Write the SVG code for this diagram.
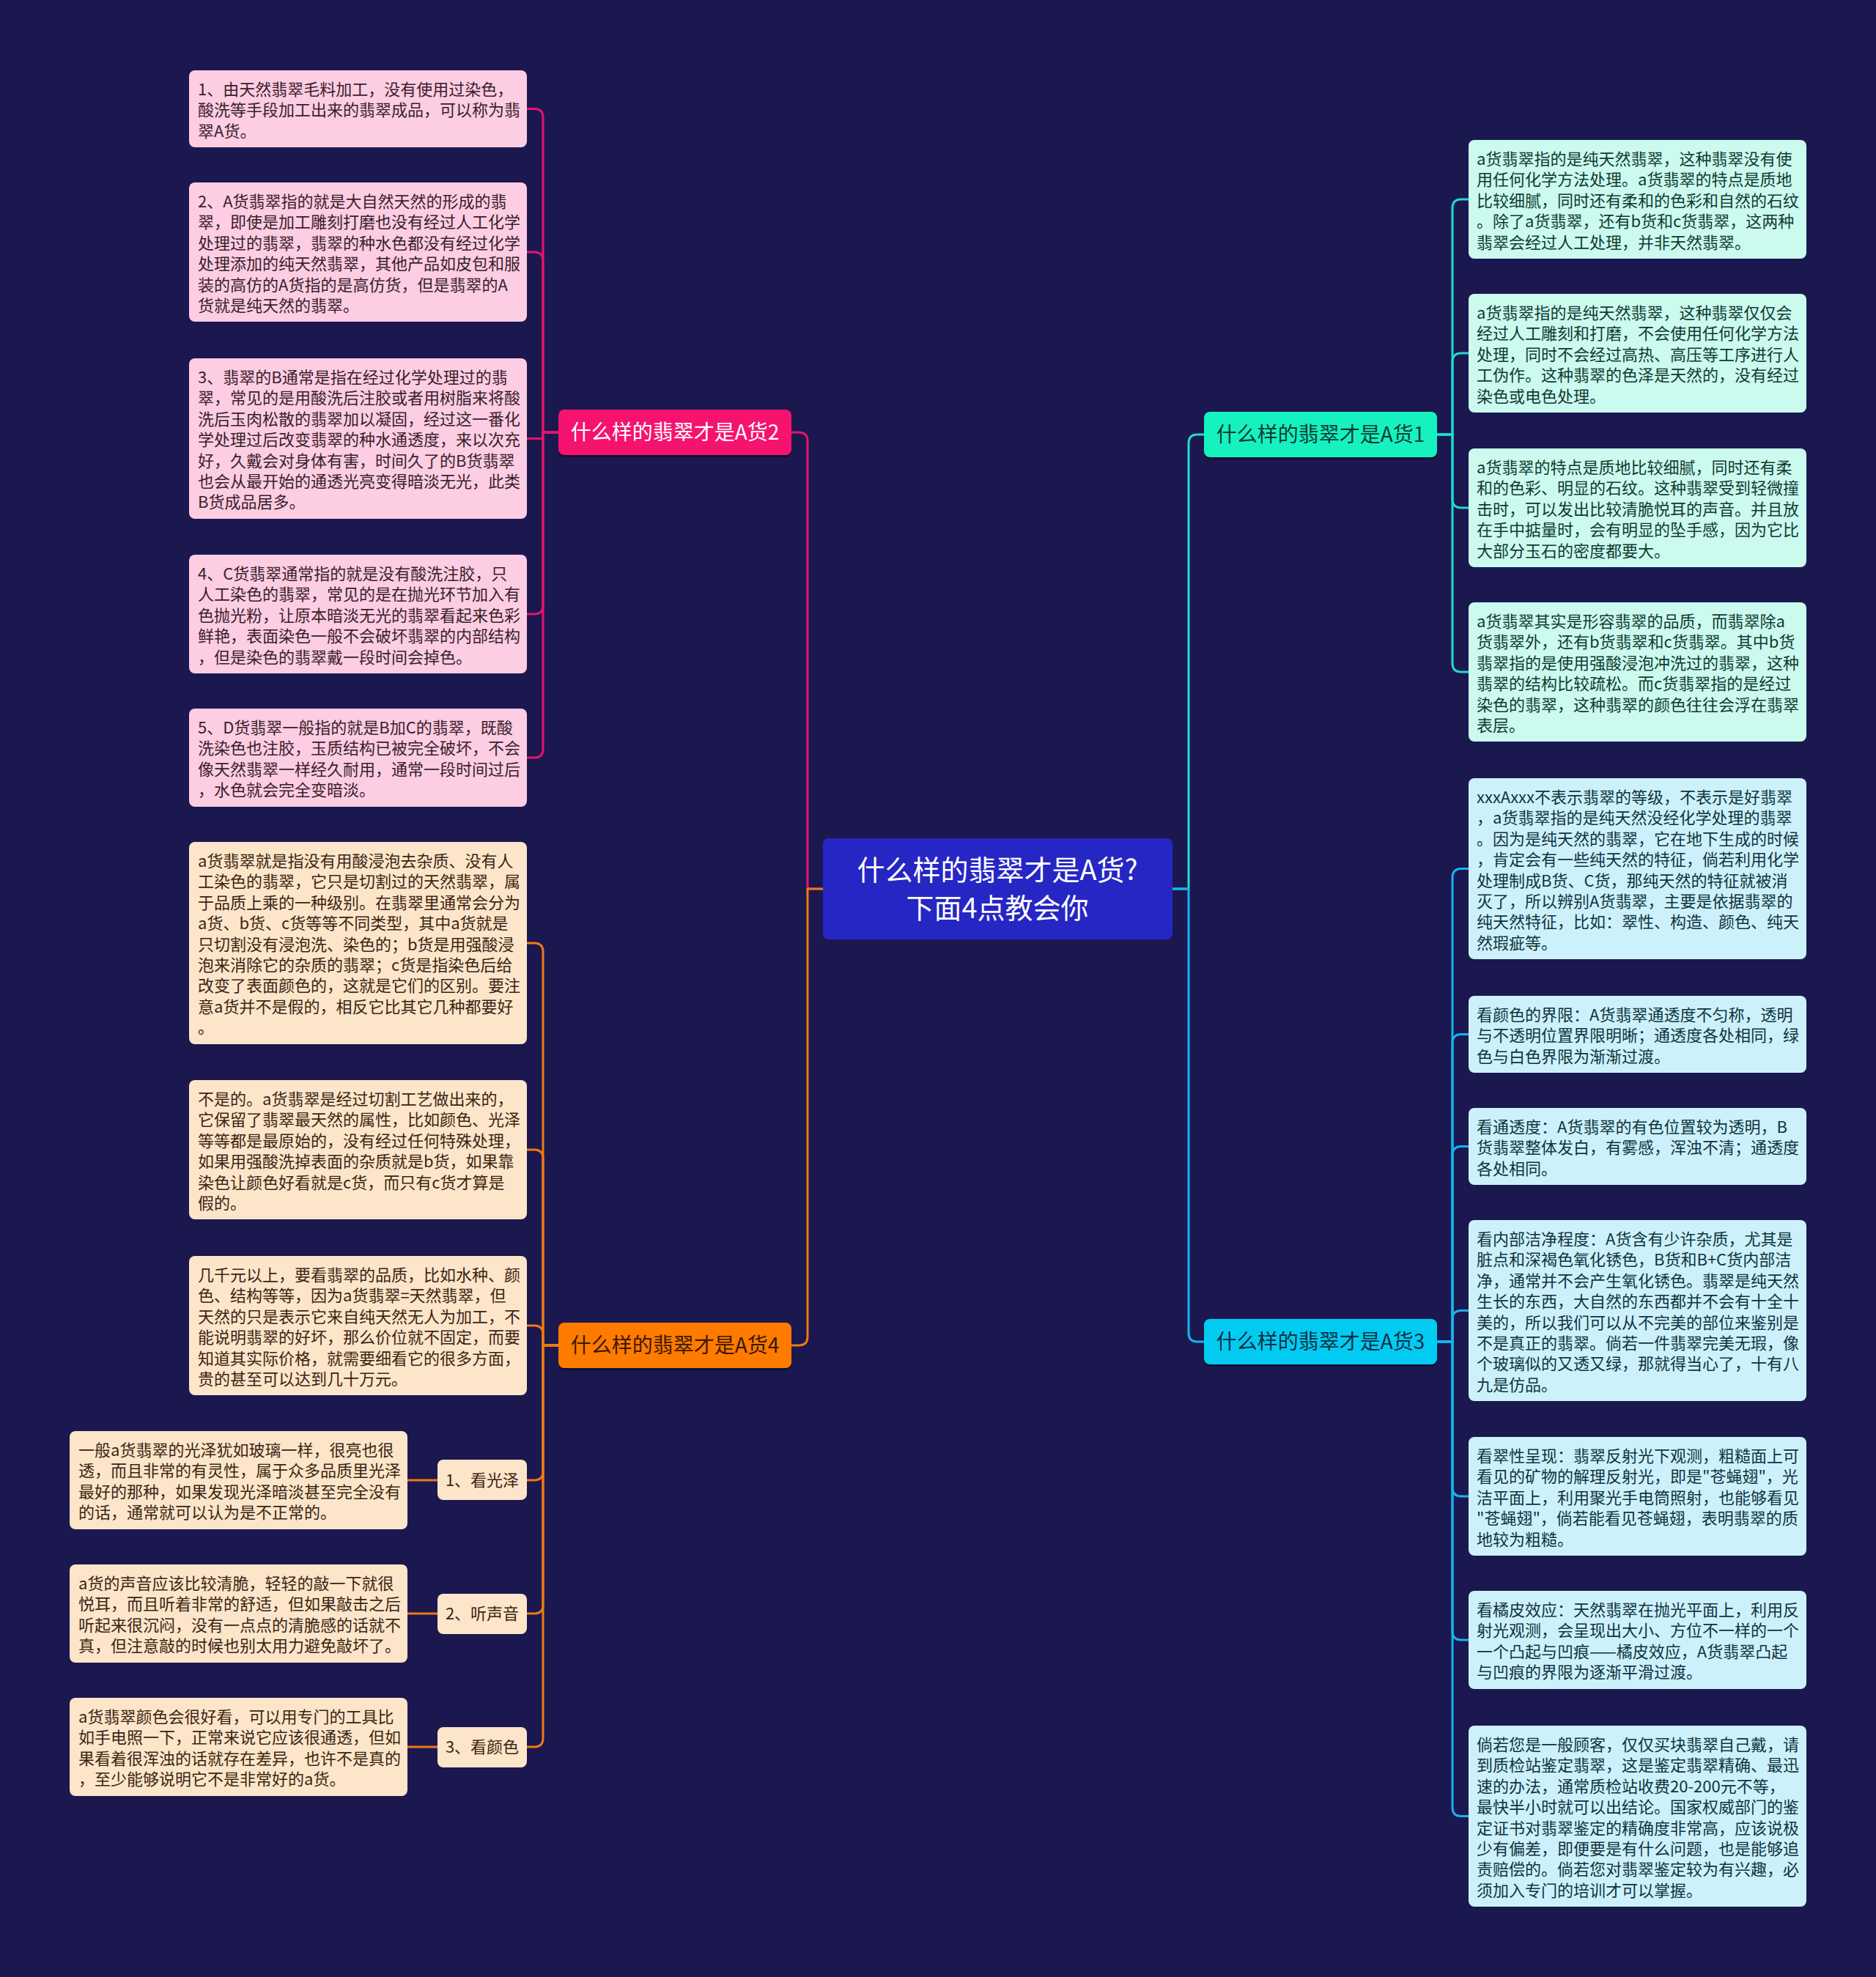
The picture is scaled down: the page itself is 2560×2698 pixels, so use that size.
<svg xmlns="http://www.w3.org/2000/svg" width="2560" height="2698" viewBox="0 0 2560 2698">
<style>
.t{font-family:"Noto Sans CJK SC","Noto Sans",sans-serif;font-size:22px}
.pk{fill:#3a1d2a}.or{fill:#3b2412}.tl{fill:#0f3a32}.cy{fill:#0f3340}
.pkb{fill:#fccde3}.orb{fill:#fde5ca}.tlb{fill:#cbfaee}.cyb{fill:#cdf1fb}
.br{font-family:"Noto Sans CJK SC","Noto Sans",sans-serif;font-size:28px;text-anchor:middle}
.c{fill:none;stroke-width:3}
.cp{stroke:#e8136c}.co{stroke:#f07a12}.ct{stroke:#1fdccb}.cc{stroke:#15b5ee}
.sh{fill:#000;opacity:0.35}
</style>
<rect x="0" y="0" width="2560" height="2698" fill="#1b1850"/>
<g id="connectors">
<path class="c cp" d="M1123,1213 H1102 V602 Q1102,590 1090,590 H1080"/>
<path class="c co" d="M1123,1213 H1102 V1824 Q1102,1836 1090,1836 H1080"/>
<path class="c ct" d="M1600,1213 H1622 V605 Q1622,593 1634,593 H1643"/>
<path class="c cc" d="M1600,1213 H1622 V1819 Q1622,1831 1634,1831 H1643"/>
<path class="c cp" d="M762,590 H741 V160.5 Q741,148.5 729,148.5 H719"/>
<path class="c cp" d="M762,590 H741 V356 Q741,344 729,344 H719"/>
<path class="c cp" d="M762,590 H741 V598.5 H719"/>
<path class="c cp" d="M762,590 H741 V826 Q741,838 729,838 H719"/>
<path class="c cp" d="M762,590 H741 V1022 Q741,1034 729,1034 H719"/>
<path class="c co" d="M762,1836 H741 V1299 Q741,1287 729,1287 H719"/>
<path class="c co" d="M762,1836 H741 V1581 Q741,1569 729,1569 H719"/>
<path class="c co" d="M762,1836 H741 V1821 Q741,1809 729,1809 H719"/>
<path class="c co" d="M762,1836 H741 V2008 Q741,2020 729,2020 H719"/>
<path class="c co" d="M762,1836 H741 V2190 Q741,2202 729,2202 H719"/>
<path class="c co" d="M762,1836 H741 V2372 Q741,2384 729,2384 H719"/>
<path class="c co" d="M597,2020 H556"/>
<path class="c co" d="M597,2202 H556"/>
<path class="c co" d="M597,2384 H556"/>
<path class="c ct" d="M1961,593 H1982 V284 Q1982,272 1994,272 H2004"/>
<path class="c ct" d="M1961,593 H1982 V494 Q1982,482 1994,482 H2004"/>
<path class="c ct" d="M1961,593 H1982 V681 Q1982,693 1994,693 H2004"/>
<path class="c ct" d="M1961,593 H1982 V905 Q1982,917 1994,917 H2004"/>
<path class="c cc" d="M1961,1831 H1982 V1197.5 Q1982,1185.5 1994,1185.5 H2004"/>
<path class="c cc" d="M1961,1831 H1982 V1423.5 Q1982,1411.5 1994,1411.5 H2004"/>
<path class="c cc" d="M1961,1831 H1982 V1576.5 Q1982,1564.5 1994,1564.5 H2004"/>
<path class="c cc" d="M1961,1831 H1982 V1800.5 Q1982,1788.5 1994,1788.5 H2004"/>
<path class="c cc" d="M1961,1831 H1982 V2030 Q1982,2042 1994,2042 H2004"/>
<path class="c cc" d="M1961,1831 H1982 V2226 Q1982,2238 1994,2238 H2004"/>
<path class="c cc" d="M1961,1831 H1982 V2466.5 Q1982,2478.5 1994,2478.5 H2004"/>
</g>
<g id="center">
<rect x="1123" y="1144" width="477" height="138" rx="8" fill="#2626c4"/>
<text x="1361" y="1201" font-family="Noto Sans CJK SC, sans-serif" font-size="38" fill="#fff" text-anchor="middle">什么样的翡翠才是A货?</text>
<text x="1361" y="1253" font-family="Noto Sans CJK SC, sans-serif" font-size="38" fill="#fff" text-anchor="middle">下面4点教会你</text>
</g>
<g id="b2">
<rect class="sh" x="762" y="562" width="318" height="62" rx="8"/>
<rect x="762" y="559" width="318" height="62" rx="8" fill="#f5136f"/>
<text class="br" x="921" y="600" fill="#fff">什么样的翡翠才是A货2</text>
</g>
<g id="b4">
<rect class="sh" x="762" y="1808" width="318" height="62" rx="8"/>
<rect x="762" y="1805" width="318" height="62" rx="8" fill="#ff7b00"/>
<text class="br" x="921" y="1846" fill="#3a1800">什么样的翡翠才是A货4</text>
</g>
<g id="b1">
<rect class="sh" x="1643" y="565" width="318" height="62" rx="8"/>
<rect x="1643" y="562" width="318" height="62" rx="8" fill="#15f2c0"/>
<text class="br" x="1802" y="603" fill="#0d3b30">什么样的翡翠才是A货1</text>
</g>
<g id="b3">
<rect class="sh" x="1643" y="1803" width="318" height="62" rx="8"/>
<rect x="1643" y="1800" width="318" height="62" rx="8" fill="#02cbf2"/>
<text class="br" x="1802" y="1841" fill="#0c3040">什么样的翡翠才是A货3</text>
</g>
<g id="p1"><rect class="pkb" x="258" y="96" width="461" height="105" rx="8"/>
<text class="t pk" x="270" y="130"><tspan x="270">1、由天然翡翠毛料加工，没有使用过染色，</tspan><tspan x="270" dy="28.4">酸洗等手段加工出来的翡翠成品，可以称为翡</tspan><tspan x="270" dy="28.4">翠A货。</tspan></text></g>
<g id="p2"><rect class="pkb" x="258" y="249" width="461" height="190" rx="8"/>
<text class="t pk" x="270" y="283"><tspan x="270">2、A货翡翠指的就是大自然天然的形成的翡</tspan><tspan x="270" dy="28.4">翠，即使是加工雕刻打磨也没有经过人工化学</tspan><tspan x="270" dy="28.4">处理过的翡翠，翡翠的种水色都没有经过化学</tspan><tspan x="270" dy="28.4">处理添加的纯天然翡翠，其他产品如皮包和服</tspan><tspan x="270" dy="28.4">装的高仿的A货指的是高仿货，但是翡翠的A</tspan><tspan x="270" dy="28.4">货就是纯天然的翡翠。</tspan></text></g>
<g id="p3"><rect class="pkb" x="258" y="489" width="461" height="219" rx="8"/>
<text class="t pk" x="270" y="523"><tspan x="270">3、翡翠的B通常是指在经过化学处理过的翡</tspan><tspan x="270" dy="28.4">翠，常见的是用酸洗后注胶或者用树脂来将酸</tspan><tspan x="270" dy="28.4">洗后玉肉松散的翡翠加以凝固，经过这一番化</tspan><tspan x="270" dy="28.4">学处理过后改变翡翠的种水通透度，来以次充</tspan><tspan x="270" dy="28.4">好，久戴会对身体有害，时间久了的B货翡翠</tspan><tspan x="270" dy="28.4">也会从最开始的通透光亮变得暗淡无光，此类</tspan><tspan x="270" dy="28.4">B货成品居多。</tspan></text></g>
<g id="p4"><rect class="pkb" x="258" y="757" width="461" height="162" rx="8"/>
<text class="t pk" x="270" y="791"><tspan x="270">4、C货翡翠通常指的就是没有酸洗注胶，只</tspan><tspan x="270" dy="28.4">人工染色的翡翠，常见的是在抛光环节加入有</tspan><tspan x="270" dy="28.4">色抛光粉，让原本暗淡无光的翡翠看起来色彩</tspan><tspan x="270" dy="28.4">鲜艳，表面染色一般不会破坏翡翠的内部结构</tspan><tspan x="270" dy="28.4">，但是染色的翡翠戴一段时间会掉色。</tspan></text></g>
<g id="p5"><rect class="pkb" x="258" y="967" width="461" height="134" rx="8"/>
<text class="t pk" x="270" y="1001"><tspan x="270">5、D货翡翠一般指的就是B加C的翡翠，既酸</tspan><tspan x="270" dy="28.4">洗染色也注胶，玉质结构已被完全破坏，不会</tspan><tspan x="270" dy="28.4">像天然翡翠一样经久耐用，通常一段时间过后</tspan><tspan x="270" dy="28.4">，水色就会完全变暗淡。</tspan></text></g>
<g id="o1"><rect class="orb" x="258" y="1149" width="461" height="276" rx="8"/>
<text class="t or" x="270" y="1183"><tspan x="270">a货翡翠就是指没有用酸浸泡去杂质、没有人</tspan><tspan x="270" dy="28.4">工染色的翡翠，它只是切割过的天然翡翠，属</tspan><tspan x="270" dy="28.4">于品质上乘的一种级别。在翡翠里通常会分为</tspan><tspan x="270" dy="28.4">a货、b货、c货等等不同类型，其中a货就是</tspan><tspan x="270" dy="28.4">只切割没有浸泡洗、染色的；b货是用强酸浸</tspan><tspan x="270" dy="28.4">泡来消除它的杂质的翡翠；c货是指染色后给</tspan><tspan x="270" dy="28.4">改变了表面颜色的，这就是它们的区别。要注</tspan><tspan x="270" dy="28.4">意a货并不是假的，相反它比其它几种都要好</tspan><tspan x="270" dy="28.4">。</tspan></text></g>
<g id="o2"><rect class="orb" x="258" y="1474" width="461" height="190" rx="8"/>
<text class="t or" x="270" y="1508"><tspan x="270">不是的。a货翡翠是经过切割工艺做出来的，</tspan><tspan x="270" dy="28.4">它保留了翡翠最天然的属性，比如颜色、光泽</tspan><tspan x="270" dy="28.4">等等都是最原始的，没有经过任何特殊处理，</tspan><tspan x="270" dy="28.4">如果用强酸洗掉表面的杂质就是b货，如果靠</tspan><tspan x="270" dy="28.4">染色让颜色好看就是c货，而只有c货才算是</tspan><tspan x="270" dy="28.4">假的。</tspan></text></g>
<g id="o3"><rect class="orb" x="258" y="1714" width="461" height="190" rx="8"/>
<text class="t or" x="270" y="1748"><tspan x="270">几千元以上，要看翡翠的品质，比如水种、颜</tspan><tspan x="270" dy="28.4">色、结构等等，因为a货翡翠=天然翡翠，但</tspan><tspan x="270" dy="28.4">天然的只是表示它来自纯天然无人为加工，不</tspan><tspan x="270" dy="28.4">能说明翡翠的好坏，那么价位就不固定，而要</tspan><tspan x="270" dy="28.4">知道其实际价格，就需要细看它的很多方面，</tspan><tspan x="270" dy="28.4">贵的甚至可以达到几十万元。</tspan></text></g>
<g id="l1"><rect class="orb" x="597" y="1992" width="122" height="55" rx="8"/>
<text class="t or" x="658" y="2028" text-anchor="middle">1、看光泽</text></g>
<g id="l2"><rect class="orb" x="597" y="2175" width="122" height="55" rx="8"/>
<text class="t or" x="658" y="2210" text-anchor="middle">2、听声音</text></g>
<g id="l3"><rect class="orb" x="597" y="2357" width="122" height="55" rx="8"/>
<text class="t or" x="658" y="2392" text-anchor="middle">3、看颜色</text></g>
<g id="o4"><rect class="orb" x="95" y="1953" width="461" height="134" rx="8"/>
<text class="t or" x="107" y="1987"><tspan x="107">一般a货翡翠的光泽犹如玻璃一样，很亮也很</tspan><tspan x="107" dy="28.4">透，而且非常的有灵性，属于众多品质里光泽</tspan><tspan x="107" dy="28.4">最好的那种，如果发现光泽暗淡甚至完全没有</tspan><tspan x="107" dy="28.4">的话，通常就可以认为是不正常的。</tspan></text></g>
<g id="o5"><rect class="orb" x="95" y="2135" width="461" height="134" rx="8"/>
<text class="t or" x="107" y="2169"><tspan x="107">a货的声音应该比较清脆，轻轻的敲一下就很</tspan><tspan x="107" dy="28.4">悦耳，而且听着非常的舒适，但如果敲击之后</tspan><tspan x="107" dy="28.4">听起来很沉闷，没有一点点的清脆感的话就不</tspan><tspan x="107" dy="28.4">真，但注意敲的时候也别太用力避免敲坏了。</tspan></text></g>
<g id="o6"><rect class="orb" x="95" y="2317" width="461" height="134" rx="8"/>
<text class="t or" x="107" y="2351"><tspan x="107">a货翡翠颜色会很好看，可以用专门的工具比</tspan><tspan x="107" dy="28.4">如手电照一下，正常来说它应该很通透，但如</tspan><tspan x="107" dy="28.4">果看着很浑浊的话就存在差异，也许不是真的</tspan><tspan x="107" dy="28.4">，至少能够说明它不是非常好的a货。</tspan></text></g>
<g id="t1"><rect class="tlb" x="2004" y="191" width="461" height="162" rx="8"/>
<text class="t tl" x="2015" y="225"><tspan x="2015">a货翡翠指的是纯天然翡翠，这种翡翠没有使</tspan><tspan x="2015" dy="28.4">用任何化学方法处理。a货翡翠的特点是质地</tspan><tspan x="2015" dy="28.4">比较细腻，同时还有柔和的色彩和自然的石纹</tspan><tspan x="2015" dy="28.4">。除了a货翡翠，还有b货和c货翡翠，这两种</tspan><tspan x="2015" dy="28.4">翡翠会经过人工处理，并非天然翡翠。</tspan></text></g>
<g id="t2"><rect class="tlb" x="2004" y="401" width="461" height="162" rx="8"/>
<text class="t tl" x="2015" y="435"><tspan x="2015">a货翡翠指的是纯天然翡翠，这种翡翠仅仅会</tspan><tspan x="2015" dy="28.4">经过人工雕刻和打磨，不会使用任何化学方法</tspan><tspan x="2015" dy="28.4">处理，同时不会经过高热、高压等工序进行人</tspan><tspan x="2015" dy="28.4">工伪作。这种翡翠的色泽是天然的，没有经过</tspan><tspan x="2015" dy="28.4">染色或电色处理。</tspan></text></g>
<g id="t3"><rect class="tlb" x="2004" y="612" width="461" height="162" rx="8"/>
<text class="t tl" x="2015" y="646"><tspan x="2015">a货翡翠的特点是质地比较细腻，同时还有柔</tspan><tspan x="2015" dy="28.4">和的色彩、明显的石纹。这种翡翠受到轻微撞</tspan><tspan x="2015" dy="28.4">击时，可以发出比较清脆悦耳的声音。并且放</tspan><tspan x="2015" dy="28.4">在手中掂量时，会有明显的坠手感，因为它比</tspan><tspan x="2015" dy="28.4">大部分玉石的密度都要大。</tspan></text></g>
<g id="t4"><rect class="tlb" x="2004" y="822" width="461" height="190" rx="8"/>
<text class="t tl" x="2015" y="856"><tspan x="2015">a货翡翠其实是形容翡翠的品质，而翡翠除a</tspan><tspan x="2015" dy="28.4">货翡翠外，还有b货翡翠和c货翡翠。其中b货</tspan><tspan x="2015" dy="28.4">翡翠指的是使用强酸浸泡冲洗过的翡翠，这种</tspan><tspan x="2015" dy="28.4">翡翠的结构比较疏松。而c货翡翠指的是经过</tspan><tspan x="2015" dy="28.4">染色的翡翠，这种翡翠的颜色往往会浮在翡翠</tspan><tspan x="2015" dy="28.4">表层。</tspan></text></g>
<g id="c1"><rect class="cyb" x="2004" y="1062" width="461" height="247" rx="8"/>
<text class="t cy" x="2015" y="1096"><tspan x="2015">xxxAxxx不表示翡翠的等级，不表示是好翡翠</tspan><tspan x="2015" dy="28.4">，a货翡翠指的是纯天然没经化学处理的翡翠</tspan><tspan x="2015" dy="28.4">。因为是纯天然的翡翠，它在地下生成的时候</tspan><tspan x="2015" dy="28.4">，肯定会有一些纯天然的特征，倘若利用化学</tspan><tspan x="2015" dy="28.4">处理制成B货、C货，那纯天然的特征就被消</tspan><tspan x="2015" dy="28.4">灭了，所以辨别A货翡翠，主要是依据翡翠的</tspan><tspan x="2015" dy="28.4">纯天然特征，比如：翠性、构造、颜色、纯天</tspan><tspan x="2015" dy="28.4">然瑕疵等。</tspan></text></g>
<g id="c2"><rect class="cyb" x="2004" y="1359" width="461" height="105" rx="8"/>
<text class="t cy" x="2015" y="1393"><tspan x="2015">看颜色的界限：A货翡翠通透度不匀称，透明</tspan><tspan x="2015" dy="28.4">与不透明位置界限明晰；通透度各处相同，绿</tspan><tspan x="2015" dy="28.4">色与白色界限为渐渐过渡。</tspan></text></g>
<g id="c3"><rect class="cyb" x="2004" y="1512" width="461" height="105" rx="8"/>
<text class="t cy" x="2015" y="1546"><tspan x="2015">看通透度：A货翡翠的有色位置较为透明，B</tspan><tspan x="2015" dy="28.4">货翡翠整体发白，有雾感，浑浊不清；通透度</tspan><tspan x="2015" dy="28.4">各处相同。</tspan></text></g>
<g id="c4"><rect class="cyb" x="2004" y="1665" width="461" height="247" rx="8"/>
<text class="t cy" x="2015" y="1699"><tspan x="2015">看内部洁净程度：A货含有少许杂质，尤其是</tspan><tspan x="2015" dy="28.4">脏点和深褐色氧化锈色，B货和B+C货内部洁</tspan><tspan x="2015" dy="28.4">净，通常并不会产生氧化锈色。翡翠是纯天然</tspan><tspan x="2015" dy="28.4">生长的东西，大自然的东西都并不会有十全十</tspan><tspan x="2015" dy="28.4">美的，所以我们可以从不完美的部位来鉴别是</tspan><tspan x="2015" dy="28.4">不是真正的翡翠。倘若一件翡翠完美无瑕，像</tspan><tspan x="2015" dy="28.4">个玻璃似的又透又绿，那就得当心了，十有八</tspan><tspan x="2015" dy="28.4">九是仿品。</tspan></text></g>
<g id="c5"><rect class="cyb" x="2004" y="1961" width="461" height="162" rx="8"/>
<text class="t cy" x="2015" y="1995"><tspan x="2015">看翠性呈现：翡翠反射光下观测，粗糙面上可</tspan><tspan x="2015" dy="28.4">看见的矿物的解理反射光，即是"苍蝇翅"，光</tspan><tspan x="2015" dy="28.4">洁平面上，利用聚光手电筒照射，也能够看见</tspan><tspan x="2015" dy="28.4">"苍蝇翅"，倘若能看见苍蝇翅，表明翡翠的质</tspan><tspan x="2015" dy="28.4">地较为粗糙。</tspan></text></g>
<g id="c6"><rect class="cyb" x="2004" y="2171" width="461" height="134" rx="8"/>
<text class="t cy" x="2015" y="2205"><tspan x="2015">看橘皮效应：天然翡翠在抛光平面上，利用反</tspan><tspan x="2015" dy="28.4">射光观测，会呈现出大小、方位不一样的一个</tspan><tspan x="2015" dy="28.4">一个凸起与凹痕——橘皮效应，A货翡翠凸起</tspan><tspan x="2015" dy="28.4">与凹痕的界限为逐渐平滑过渡。</tspan></text></g>
<g id="c7"><rect class="cyb" x="2004" y="2355" width="461" height="247" rx="8"/>
<text class="t cy" x="2015" y="2389"><tspan x="2015">倘若您是一般顾客，仅仅买块翡翠自己戴，请</tspan><tspan x="2015" dy="28.4">到质检站鉴定翡翠，这是鉴定翡翠精确、最迅</tspan><tspan x="2015" dy="28.4">速的办法，通常质检站收费20-200元不等，</tspan><tspan x="2015" dy="28.4">最快半小时就可以出结论。国家权威部门的鉴</tspan><tspan x="2015" dy="28.4">定证书对翡翠鉴定的精确度非常高，应该说极</tspan><tspan x="2015" dy="28.4">少有偏差，即便要是有什么问题，也是能够追</tspan><tspan x="2015" dy="28.4">责赔偿的。倘若您对翡翠鉴定较为有兴趣，必</tspan><tspan x="2015" dy="28.4">须加入专门的培训才可以掌握。</tspan></text></g>
</svg>
